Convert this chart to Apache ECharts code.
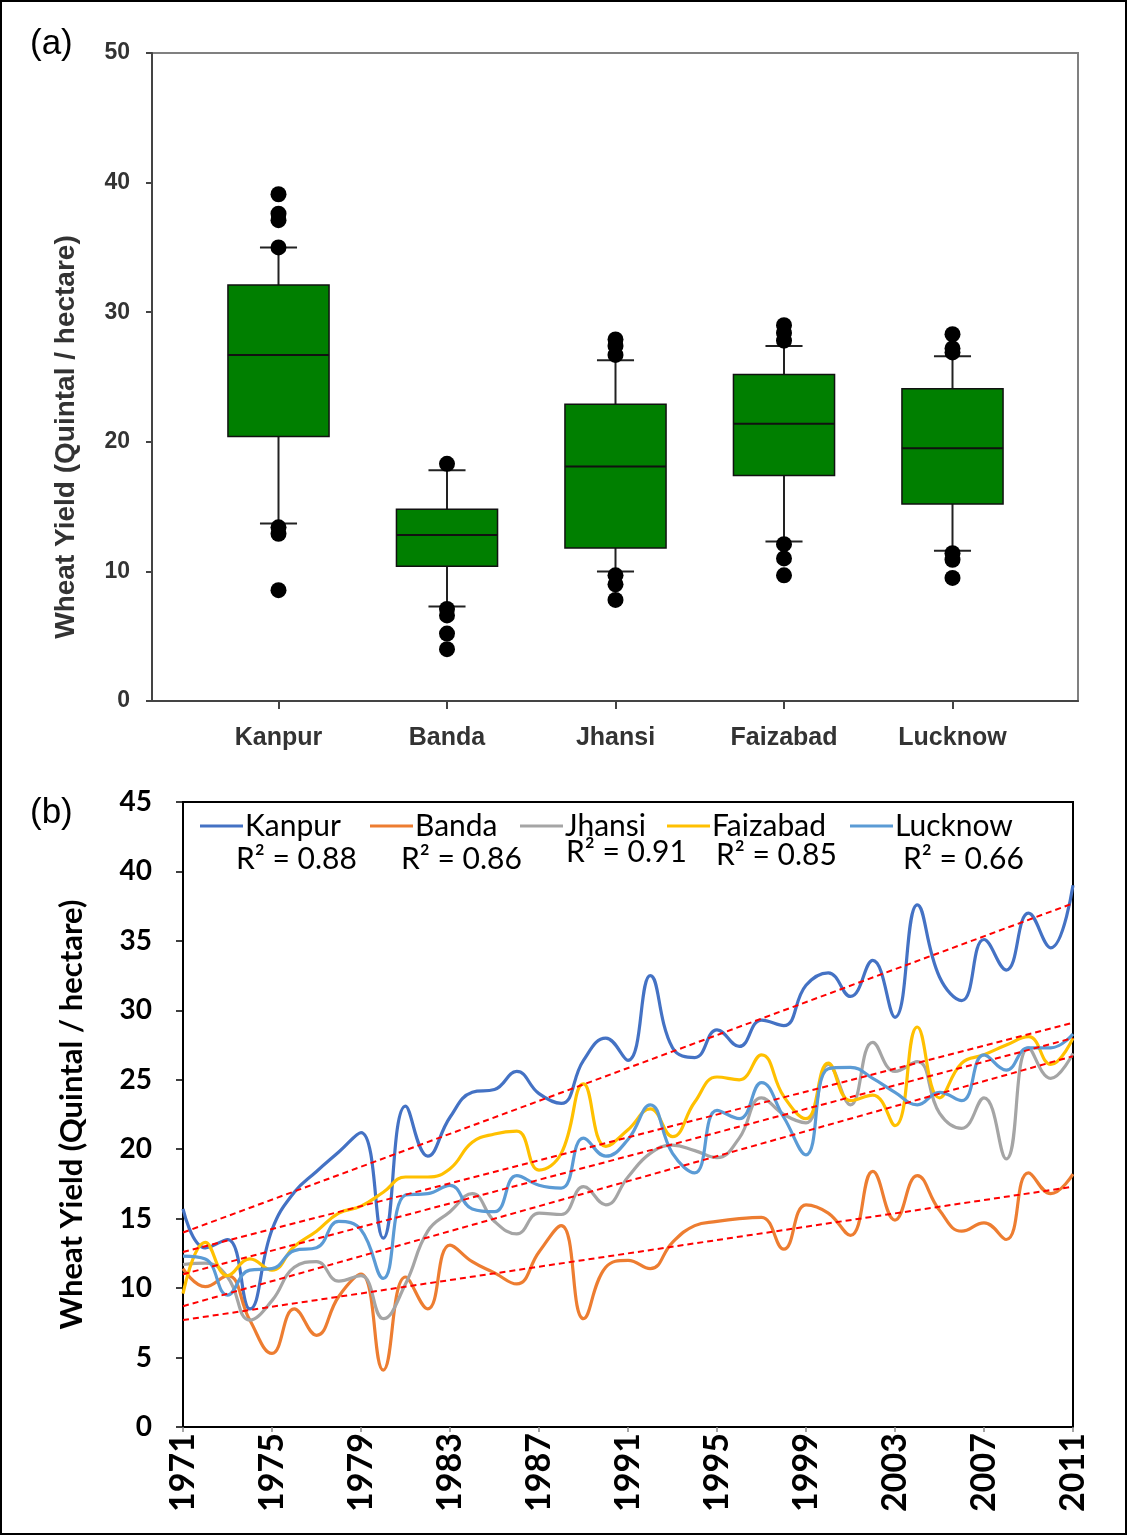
<!DOCTYPE html>
<html>
<head>
<meta charset="utf-8">
<script src="https://cdn.jsdelivr.net/npm/echarts@6/dist/echarts.min.js"></script>
<style>
html,body{margin:0;padding:0;background:#fff;}
#chart{width:1127px;height:1535px;position:relative;}
#frame{position:absolute;left:0;top:0;width:1127px;height:1535px;box-sizing:border-box;border:2px solid #000;pointer-events:none;}
</style>
</head>
<body>
<div style="position:relative;width:1127px;height:1535px;">
<div id="chart"></div>
<div id="frame"></div>
</div>
<script>
// ---------- Panel (a): box plot data ----------
const boxCategories = ['Kanpur', 'Banda', 'Jhansi', 'Faizabad', 'Lucknow'];
const whiskerLow  = [13.7, 7.3, 10.0, 12.3, 11.6];
const q1          = [20.4, 10.4, 11.8, 17.4, 15.2];
const median      = [26.7, 12.8, 18.1, 21.4, 19.5];
const q3          = [32.1, 14.8, 22.9, 25.2, 24.1];
const whiskerHigh = [35.0, 17.8, 26.3, 27.4, 26.6];
const outliers = [
  [0, 39.1], [0, 37.6], [0, 37.1], [0, 35.0], [0, 13.4], [0, 12.9], [0, 8.55],
  [1, 18.3], [1, 7.1], [1, 6.6], [1, 5.2], [1, 4.0],
  [2, 27.9], [2, 27.4], [2, 26.7], [2, 9.7], [2, 9.0], [2, 7.8],
  [3, 29.0], [3, 28.4], [3, 27.8], [3, 12.1], [3, 11.0], [3, 9.7],
  [4, 28.3], [4, 27.2], [4, 26.9], [4, 11.4], [4, 10.9], [4, 9.5]
];
const boxYTicks = [0, 50, 10];

// ---------- Panel (b): yearly series ----------
const years = [];
for (let y = 1971; y <= 2011; y++) years.push(String(y));

const kanpur = [15.7, 12.9, 13.5, 8.5, 14.2, 16.9, 18.4, 19.8, 21.2, 13.6,
  23.1, 19.5, 22.3, 24.1, 24.3, 25.6, 24.0, 23.3, 26.4, 28.0,
  26.4, 32.5, 27.3, 26.6, 28.6, 27.4, 29.3, 28.9, 31.8, 32.7,
  31.0, 33.6, 29.5, 37.6, 32.4, 30.7, 35.1, 32.9, 37.0, 34.5, 39.0];
const banda = [11.4, 10.1, 10.9, 7.7, 5.3, 8.5, 6.6, 9.4, 11.0, 4.1,
  10.8, 8.5, 13.1, 11.9, 11.1, 10.3, 12.6, 14.5, 7.8, 11.5,
  12.0, 11.4, 13.3, 14.5, 14.8, 15.0, 15.1, 12.8, 16.0, 15.4,
  13.8, 18.4, 14.9, 18.1, 15.6, 14.1, 14.7, 13.5, 18.3, 16.8, 18.2];
const jhansi = [11.7, 11.8, 10.8, 7.7, 9.1, 11.5, 11.9, 10.5, 10.9, 7.8,
  10.3, 14.1, 15.5, 16.8, 14.8, 13.9, 15.4, 15.3, 17.3, 16.0,
  18.0, 19.7, 20.3, 19.9, 19.4, 20.8, 23.7, 22.5, 21.9, 26.1,
  23.2, 27.7, 25.6, 26.3, 22.6, 21.5, 23.7, 19.3, 27.3, 25.1, 26.9];
const faizabad = [9.6, 13.3, 10.9, 12.1, 11.3, 13.0, 14.1, 15.4, 15.9, 16.9,
  18.0, 18.0, 18.6, 20.5, 21.1, 21.3, 18.5, 19.7, 24.7, 20.2,
  21.4, 22.9, 20.9, 23.4, 25.2, 25.0, 26.8, 23.8, 22.2, 26.2,
  23.5, 23.9, 21.7, 28.8, 23.7, 26.2, 26.8, 27.5, 28.1, 26.1, 28.0];
const lucknow = [12.3, 12.1, 9.5, 11.3, 11.4, 12.7, 12.9, 14.8, 14.2, 10.7,
  16.7, 16.8, 17.4, 15.7, 15.5, 18.1, 17.4, 17.2, 20.8, 19.5,
  20.7, 23.2, 19.7, 18.3, 22.8, 22.2, 24.8, 22.3, 19.6, 25.8,
  25.9, 25.1, 24.1, 23.2, 24.1, 23.5, 26.8, 25.7, 27.3, 27.3, 28.3];

const seriesNames = ['Kanpur', 'Banda', 'Jhansi', 'Faizabad', 'Lucknow'];
const seriesValues = [kanpur, banda, jhansi, faizabad, lucknow];
const seriesColors = ['#4472C4', '#ED7D31', '#A5A5A5', '#FFC000', '#5B9BD5'];
const rSquared = ['R² = 0.88', 'R² = 0.86', 'R² = 0.91', 'R² = 0.85', 'R² = 0.66'];
const trendStart = [14.0, 7.7, 8.7, 12.6, 11.0];
const trendEnd   = [37.7, 17.3, 26.7, 29.1, 28.0];
const lineYTicks = [0, 45, 5];

// ---------- Layout ----------
const legendLeft = [200, 370, 520, 667, 850];
const rLabelPos = [[236, 862], [401, 862], [566, 855], [716, 858], [903, 862]];

const chart = echarts.init(document.getElementById('chart'), null, {renderer: 'canvas'});

const boxData = boxCategories.map((c, i) => [i, whiskerLow[i], q1[i], median[i], q3[i], whiskerHigh[i]]);

function renderBox(params, api) {
  const idx = api.value(0);
  const lo = api.coord([idx, api.value(1)]);
  const b = api.coord([idx, api.value(2)]);
  const m = api.coord([idx, api.value(3)]);
  const t = api.coord([idx, api.value(4)]);
  const hi = api.coord([idx, api.value(5)]);
  const band = api.size([1, 0])[0];
  const bw = band * 0.6, cw = band * 0.22;
  const x = lo[0];
  const ls = {stroke: '#222', lineWidth: 2};
  return {
    type: 'group',
    children: [
      {type: 'line', shape: {x1: x, y1: hi[1], x2: x, y2: t[1]}, style: ls},
      {type: 'line', shape: {x1: x, y1: b[1], x2: x, y2: lo[1]}, style: ls},
      {type: 'line', shape: {x1: x - cw / 2, y1: hi[1], x2: x + cw / 2, y2: hi[1]}, style: ls},
      {type: 'line', shape: {x1: x - cw / 2, y1: lo[1], x2: x + cw / 2, y2: lo[1]}, style: ls},
      {type: 'rect', shape: {x: x - bw / 2, y: t[1], width: bw, height: b[1] - t[1]},
        style: {fill: '#007f00', stroke: '#111', lineWidth: 1.5}},
      {type: 'line', shape: {x1: x - bw / 2, y1: m[1], x2: x + bw / 2, y2: m[1]}, style: {stroke: '#111', lineWidth: 2}}
    ]
  };
}

const lineSeries = seriesNames.map((n, i) => ({
  name: n,
  type: 'line',
  xAxisIndex: 2, yAxisIndex: 2,
  data: seriesValues[i],
  smooth: 0.45,
  symbol: 'none',
  showSymbol: false,
  lineStyle: {color: seriesColors[i], width: 3.2},
  itemStyle: {color: seriesColors[i]},
  z: 3,
  markLine: {
    silent: true,
    symbol: ['none', 'none'],
    label: {show: false},
    lineStyle: {color: '#ff0000', type: [6, 4], width: 2},
    emphasis: {disabled: true},
    data: [[{coord: [years[0], trendStart[i]]}, {coord: [years[years.length - 1], trendEnd[i]]}]]
  }
}));

const legends = seriesNames.map((n, i) => ({
  data: [n],
  left: legendLeft[i],
  top: 810,
  icon: 'rect',
  itemWidth: 43,
  itemHeight: 3,
  itemGap: 0,
  padding: 0,
  selectedMode: false,
  textStyle: {fontFamily: 'Lato', fontSize: 30, lineHeight: 32, color: '#000', padding: [0, 0, 0, -3]}
}));

const rTexts = rSquared.map((t, i) => ({
  type: 'text',
  left: rLabelPos[i][0],
  top: rLabelPos[i][1] - 18,
  style: {text: t, font: '30px Lato', fill: '#000'}
}));

const option = {
  animation: false,
  backgroundColor: '#fff',
  grid: [
    {left: 152, right: 49, top: 53, bottom: 834, show: true, borderColor: '#808080', borderWidth: 2},
    {left: 194.25, right: 90.25, top: 53, bottom: 834},
    {left: 183, right: 54, top: 802, bottom: 108, show: true, borderColor: '#000', borderWidth: 2}
  ],
  xAxis: [
    {gridIndex: 0, type: 'value', min: 0, max: 1,
      axisLine: {show: true, lineStyle: {color: '#444', width: 2}},
      axisTick: {show: false}, axisLabel: {show: false}, splitLine: {show: false}},
    {gridIndex: 1, type: 'category', data: boxCategories,
      axisLine: {show: false},
      axisTick: {show: true, alignWithLabel: true, length: 8, lineStyle: {color: '#444', width: 2}},
      axisLabel: {fontFamily: 'Liberation Sans', fontWeight: 'bold', fontSize: 25, color: '#333', margin: 25},
      splitLine: {show: false}},
    {gridIndex: 2, type: 'category', data: years, boundaryGap: false,
      axisLine: {show: true, lineStyle: {color: '#000', width: 2}},
      axisTick: {show: true, interval: 3, length: 5, lineStyle: {color: '#888', width: 1.5}},
      axisLabel: {interval: 3, rotate: 90, fontFamily: 'Lato', fontWeight: 'bold', fontSize: 34, color: '#000', margin: 6},
      splitLine: {show: false}}
  ],
  yAxis: [
    {gridIndex: 0, type: 'value', min: boxYTicks[0], max: boxYTicks[1], interval: boxYTicks[2],
      name: 'Wheat Yield (Quintal / hectare)', nameLocation: 'middle', nameGap: 72,
      nameTextStyle: {fontFamily: 'Liberation Sans', fontWeight: 'bold', fontSize: 28, color: '#333', padding: [0, 120, 0, 0]},
      axisLine: {show: true, lineStyle: {color: '#444', width: 2}},
      axisTick: {show: true, length: 6, lineStyle: {color: '#444', width: 2}},
      axisLabel: {fontFamily: 'Liberation Sans', fontWeight: 'bold', fontSize: 23, color: '#333', margin: 22},
      splitLine: {show: false}},
    {gridIndex: 1, type: 'value', min: boxYTicks[0], max: boxYTicks[1], show: false, splitLine: {show: false}},
    {gridIndex: 2, type: 'value', min: lineYTicks[0], max: lineYTicks[1], interval: lineYTicks[2],
      name: 'Wheat Yield (Quintal / hectare)', nameLocation: 'middle', nameGap: 96,
      nameTextStyle: {fontFamily: 'Lato', fontWeight: 'bold', fontSize: 31, color: '#000'},
      axisLine: {show: true, lineStyle: {color: '#000', width: 2}},
      axisTick: {show: true, length: 7, lineStyle: {color: '#000', width: 1.5}},
      axisLabel: {fontFamily: 'Lato', fontWeight: 'bold', fontSize: 28, color: '#000', margin: 31},
      splitLine: {show: false}}
  ],
  legend: legends,
  graphic: [
    {type: 'text', left: 30, top: 27, style: {text: '(a)', font: '35px "Liberation Sans"', fill: '#000'}},
    {type: 'text', left: 30, top: 796, style: {text: '(b)', font: '35px "Liberation Sans"', fill: '#000'}}
  ].concat(rTexts),
  series: [
    {type: 'custom', xAxisIndex: 1, yAxisIndex: 1, data: boxData, renderItem: renderBox,
      encode: {x: 0, y: [1, 2, 3, 4, 5]}, z: 2},
    {type: 'scatter', xAxisIndex: 1, yAxisIndex: 1, data: outliers, symbol: 'circle', symbolSize: 16,
      itemStyle: {color: '#000', opacity: 1}, z: 3, silent: true}
  ].concat(lineSeries)
};
chart.setOption(option);
</script>
</body>
</html>
